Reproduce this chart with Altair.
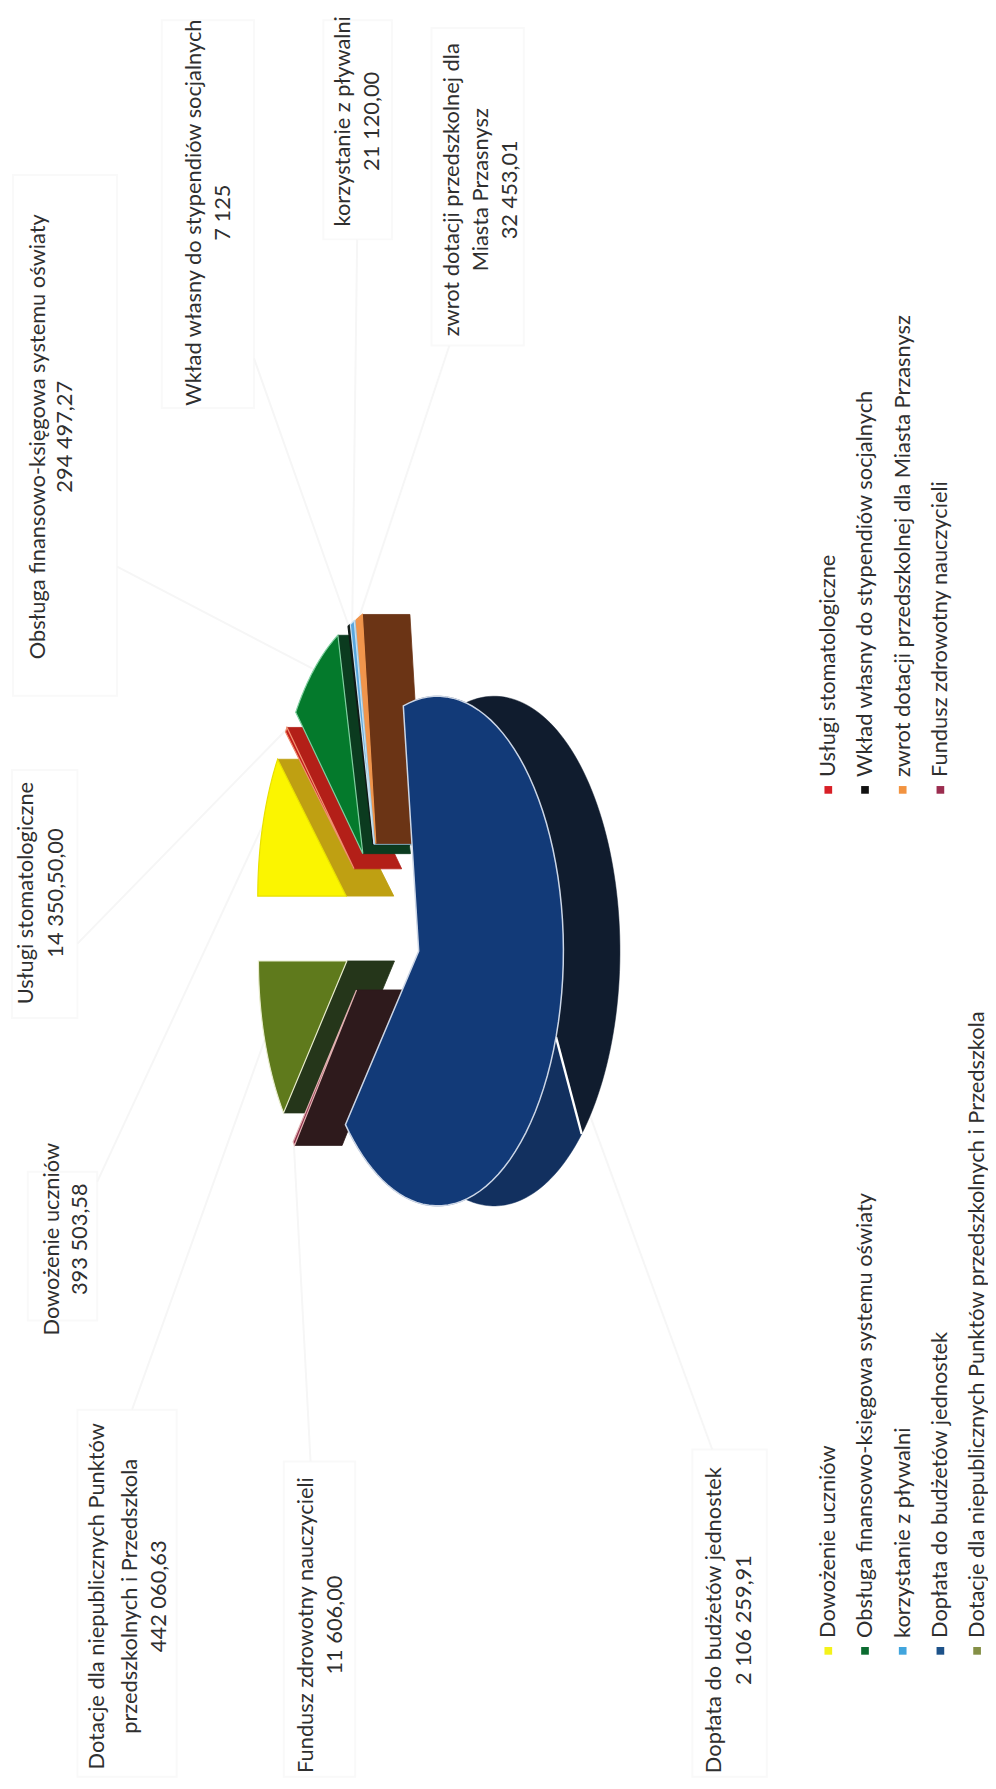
import math
import altair as alt
import pandas as pd

W, H = 980, 1773
names = ["Dowożenie uczniów", "Usługi stomatologiczne", "Obsługa finansowo-księgowa systemu oświaty",
         "Wkład własny do stypendiów socjalnych", "korzystanie z pływalni",
         "zwrot dotacji przedszkolnej dla Miasta Przasnysz", "Dopłata do budżetów jednostek",
         "Fundusz zdrowotny nauczycieli", "Dotacje dla niepublicznych Punktów przedszkolnych i Przedszkola"]
values = [393503.58, 14350.50, 294497.27, 7125, 21120.00, 32453.01, 2106259.91, 11606.00, 442060.63]
face = ["#fbf500", "#c4201d", "#047a2c", "#111a16", "#58a6dc", "#f0954c", "#123a78", "#8e2f4a", "#5f7a1c"]
side = ["#bfa012", "#b31f18", "#0b3b1f", "#0b2a1a", "#9fc6df", "#6b3415", "#12305f", "#2e1a1c", "#25361a"]
edge = ["#e8e000", "#f09070", "#7fd0a0", "#111a16", "#c8e0f0", "#f0954c", "#ccd6e6", "#e0b0b0", "#e8eccc"]
legend_col = ["#f4f21a", "#d81f26", "#0b6b30", "#111111", "#41a5dd", "#f29340", "#1d5289", "#9b2d4f", "#848f45"]

label_text = [
    (49, 1238, "Dowożenie uczniów"), (78, 1238, "393 503,58"),
    (23, 889, "Usługi stomatologiczne"), (53, 889, "14 350,50,00"),
    (35, 429, "Obsługa finansowo-księgowa systemu oświaty"), (63, 429, "294 497,27"),
    (193, 203, "Wkład własny do stypendiów socjalnych"), (222, 203, "7 125"),
    (343, 111, "korzystanie z pływalni"), (372, 111, "21 120,00"),
    (453, 180, "zwrot dotacji przedszkolnej dla"), (482, 180, "Miasta Przasnysz"), (511, 180, "32 453,01"),
    (95, 1598, "Dotacje dla niepublicznych Punktów"), (128, 1598, "przedszkolnych i Przedszkola"),
    (157, 1598, "442 060,63"),
    (305, 1627, "Fundusz zdrowotny nauczycieli"), (335, 1627, "11 606,00"),
    (717, 1622, "Dopłata do budżetów jednostek"), (747, 1622, "2 106 259,91"),
]
# faint label boxes: x0, x1, y0, y1
boxes = [(25, 95, 1170, 1320), (9, 75, 765, 1015), (10, 115, 165, 690), (160, 253, 9, 400),
         (323, 392, 9, 230), (432, 525, 17, 337), (75, 175, 1410, 1780), (283, 355, 1462, 1780),
         (695, 770, 1450, 1780)]
# slice index -> faint leader end point next to its label box
leader_end = {0: (95, 1180), 1: (75, 940), 2: (115, 560), 3: (253, 350), 4: (357, 230), 5: (450, 337),
              6: (715, 1450), 7: (310, 1462), 8: (130, 1410)}
legend_left = [0, 2, 4, 6, 8]
legend_right = [1, 3, 5, 7]
legend_xs = [832, 869, 907, 945, 982]
LEG_LEFT_Y, LEG_RIGHT_Y = 1653, 785

# pie geometry
CX, CY = 382.0, 923.0
EX, EY = 38.7, 85.0
SMALL = dict(rx=110.7, ry=240.0, k=0.242)
BIG = dict(rx=124.0, ry=254.0, k=0.15)
DEPTH, BIG_DEPTH = 48.0, 57.0

total = sum(values)
def ang(i):
    return sum(values[:i]) / total * 360.0
def rim(apex, t, d=0.0, g=SMALL):
    r = math.radians(t)
    u, v = -math.cos(r), -math.sin(r)
    den = 1 - g["k"] * u
    return (apex[0] + g["rx"] * u / den + d, apex[1] + g["ry"] * v / den)
def apex_of(i):
    b = math.radians((ang(i) + ang(i + 1)) / 2)
    return (CX - EX * math.cos(b), CY - EY * math.sin(b))
def arc(apex, t0, t1, d=0.0, n=80, g=SMALL):
    return [rim(apex, t0 + (t1 - t0) * j / n, d, g) for j in range(n + 1)]

layers = []
xs = alt.X("x:Q", scale=alt.Scale(domain=[8, W + 8], range=[0, W]), axis=None)
ys = alt.Y("y:Q", scale=alt.Scale(domain=[8, H + 8], range=[0, H]), axis=None)

def poly(points, fill, stroke=None, sw=1.0, closed=True):
    df = pd.DataFrame({"x": [p[0] for p in points], "y": [p[1] for p in points], "o": range(len(points))})
    kw = dict(fill=fill) if fill else {}
    layers.append(alt.Chart(df).mark_line(interpolate="linear-closed" if closed else "linear",
                                          stroke=stroke or fill, strokeWidth=sw, clip=False, **kw)
                  .encode(xs, ys, order="o:Q"))

# faint boxes and leader lines of the scan
for x0, x1, y0, y1 in boxes:
    poly([(x0, y0), (x1, y0), (x1, y1), (x0, y1)], None, "#f9f9f9", 2.0)
for i, end in leader_end.items():
    mid = (ang(i) + ang(i + 1)) / 2
    g = BIG if i == 6 else SMALL
    start = rim(apex_of(i), mid if i != 6 else 215, 57 if i == 6 else 0, g)
    poly([start, end], None, "#f6f6f6", 2.0, closed=False)

def wall(i, t):
    a = apex_of(i)
    p = rim(a, t)
    poly([a, p, (p[0] + DEPTH, p[1]), (a[0] + DEPTH, a[1])], side[i], side[i], 0.8)

def top(i, sw=1.2, g=SMALL):
    a = apex_of(i)
    poly([a] + arc(a, ang(i), ang(i + 1), g=g), face[i], edge[i], sw)

# far-left slices first, blue last
for i in [8, 7]:
    wall(i, ang(i))
    top(i)
for i in [0, 1, 2, 3, 4, 5]:
    wall(i, ang(i + 1))
    top(i)

BLUE = 6
a = apex_of(BLUE)
t0, t1 = ang(BLUE), ang(BLUE + 1)
SPLIT_RIM, SPLIT_OUT = 197.0, 220.0
poly(arc(a, t0, SPLIT_RIM, g=BIG) + arc(a, SPLIT_OUT, t0, BIG_DEPTH, g=BIG), "#101c2e", "#101c2e", 0.5)
poly(arc(a, SPLIT_RIM, t1, g=BIG) + arc(a, t1, SPLIT_OUT, BIG_DEPTH, g=BIG), side[BLUE], side[BLUE], 0.5)
poly([rim(a, SPLIT_RIM, 0, BIG), rim(a, SPLIT_OUT, BIG_DEPTH, BIG)], None, "#ffffff", 2.4, closed=False)
top(BLUE, 1.5, BIG)

# labels
lab = pd.DataFrame([{"x": x, "y": y, "t": t} for x, y, t in label_text])
layers.append(alt.Chart(lab).mark_text(angle=270, align="center", baseline="middle", font="Lato", fontSize=22,
                                       color="#2f2f2f").encode(xs, ys, text="t:N"))

# legend
rows = []
for col, y0 in ((legend_left, LEG_LEFT_Y), (legend_right, LEG_RIGHT_Y)):
    for k, i in enumerate(col):
        rows.append({"x": legend_xs[k], "y": y0, "ty": y0 - 13, "t": names[i], "c": legend_col[i]})
leg = pd.DataFrame(rows)
layers.append(alt.Chart(leg).mark_square(size=60, opacity=1).encode(xs, ys, color=alt.Color("c:N", scale=None)))
layers.append(alt.Chart(leg).mark_text(angle=270, align="left", baseline="middle", font="Lato", fontSize=22,
                                       color="#2f2f2f").encode(xs, alt.Y("ty:Q", scale=alt.Scale(domain=[8, H + 8], range=[0, H]), axis=None), text="t:N"))

chart = alt.layer(*layers).properties(width=W, height=H, padding=0, background="white").configure_view(stroke=None)
chart.save("out.html", embed_options={"renderer": "svg", "actions": False})
